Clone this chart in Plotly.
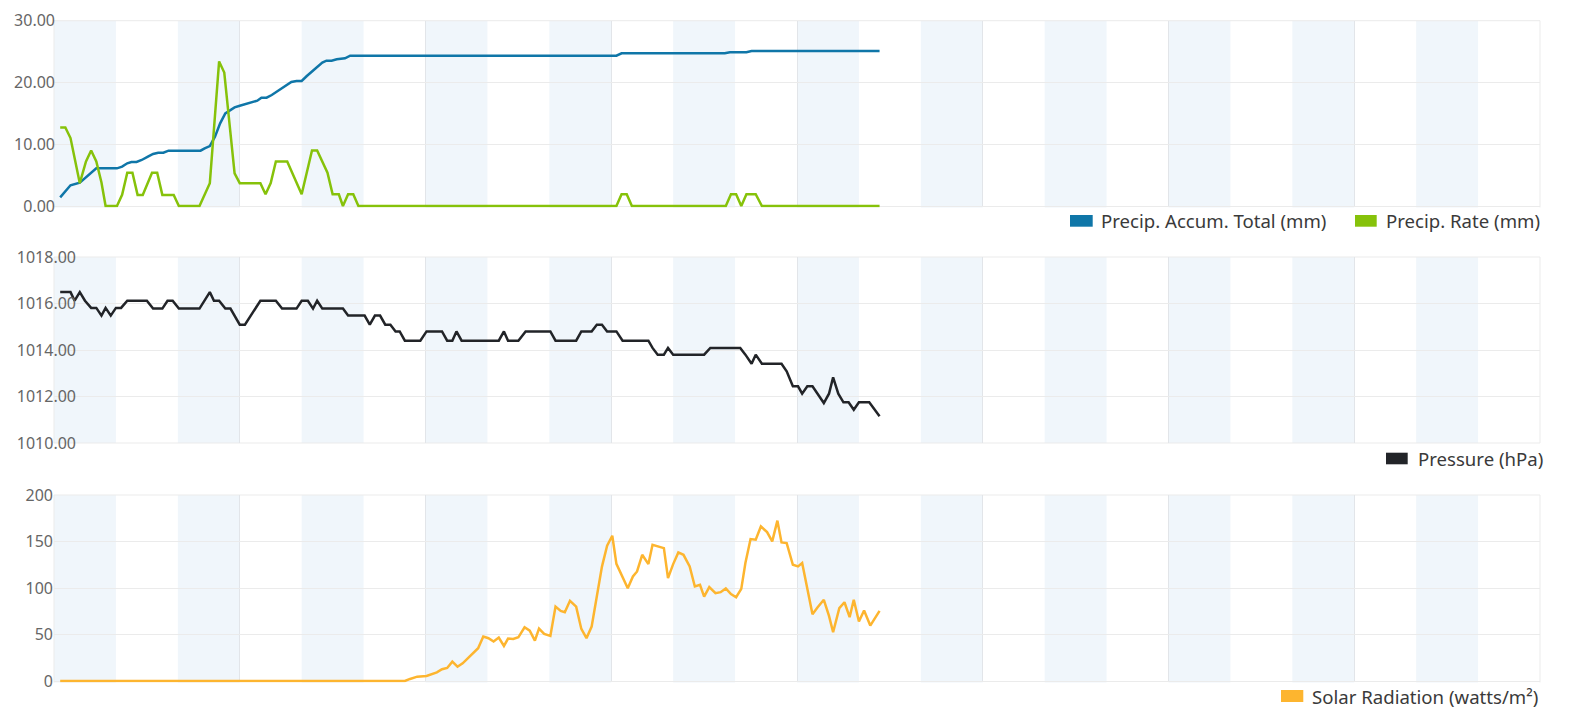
import plotly.graph_objects as go

# ---------------- data (minutes after midnight) -------------
accum_t = [6, 16, 25, 28, 35, 41, 61, 66, 71, 75, 80, 85, 91, 96, 101, 106, 111, 142, 146, 151,
           156, 161, 166, 171, 175, 180, 185, 190, 197, 201, 206, 211, 216, 221, 226, 230, 235,
           240, 245, 250, 255, 260, 264, 269, 274, 279, 282, 287, 545, 550, 650, 655, 671, 676, 800]
accum_v = [1.40, 3.35, 3.78, 4.21, 5.29, 6.10, 6.10, 6.37, 6.91, 7.12, 7.12, 7.45, 7.99, 8.42, 8.63,
           8.63, 8.96, 8.96, 9.34, 9.71, 11.23, 13.38, 15.00, 15.54, 15.97, 16.24, 16.46, 16.73,
           17.05, 17.54, 17.54, 17.97, 18.51, 19.16, 19.70, 20.08, 20.24, 20.24, 21.05, 21.75,
           22.56, 23.21, 23.53, 23.53, 23.75, 23.91, 23.91, 24.34, 24.34, 24.72, 24.72, 24.88,
           24.88, 25.09, 25.09]

rate_t = [6, 11, 16, 20, 25, 31, 36, 41, 46, 50, 61, 66, 71, 76, 81, 86, 95, 100, 105, 116, 121,
          141, 151, 160, 165, 175, 180, 200, 205, 210, 215, 226, 240, 250, 255, 265, 270, 276,
          280, 285, 290, 295, 545, 550, 555, 560, 651, 656, 661, 666, 671, 680, 686, 800]
rate_v = [12.7, 12.7, 11.0, 7.5, 3.7, 7.2, 9.0, 7.2, 3.8, 0, 0, 1.8, 5.4, 5.4, 1.8, 1.8, 5.4, 5.4,
          1.8, 1.8, 0, 0, 3.7, 23.4, 21.6, 5.3, 3.7, 3.7, 1.9, 3.7, 7.2, 7.2, 1.9, 9.0, 9.0, 5.4,
          1.9, 1.9, 0, 1.9, 1.9, 0, 0, 1.9, 1.9, 0, 0, 1.9, 1.9, 0, 1.9, 1.9, 0, 0]

press_t = [6, 16, 20, 25, 30, 36, 41, 46, 50, 55, 60, 65, 71, 90, 96, 105, 110, 115, 121, 141,
           151, 155, 160, 166, 171, 175, 180, 185, 190, 200, 215, 221, 235, 240, 246, 251, 255,
           260, 280, 285, 301, 306, 311, 316, 321, 326, 331, 335, 340, 355, 361, 376, 381, 386,
           390, 395, 431, 436, 440, 450, 457, 481, 486, 506, 511, 521, 526, 531, 536, 545, 551,
           576, 580, 585, 591, 595, 600, 630, 636, 665, 670, 676, 680, 686, 705, 710, 716, 721,
           725, 730, 735, 740, 746, 751, 755, 760, 765, 770, 775, 780, 790, 800]
press_v = [1016.49, 1016.49, 1016.12, 1016.49, 1016.12, 1015.81, 1015.81, 1015.48, 1015.81,
           1015.48, 1015.81, 1015.81, 1016.12, 1016.12, 1015.78, 1015.78, 1016.12, 1016.12,
           1015.78, 1015.78, 1016.49, 1016.12, 1016.12, 1015.78, 1015.78, 1015.45, 1015.09,
           1015.09, 1015.45, 1016.12, 1016.12, 1015.78, 1015.78, 1016.12, 1016.12, 1015.78,
           1016.12, 1015.78, 1015.78, 1015.48, 1015.48, 1015.09, 1015.48, 1015.48, 1015.09,
           1015.09, 1014.80, 1014.80, 1014.40, 1014.40, 1014.80, 1014.80, 1014.40, 1014.40,
           1014.80, 1014.40, 1014.40, 1014.80, 1014.40, 1014.40, 1014.80, 1014.80, 1014.40,
           1014.40, 1014.80, 1014.80, 1015.09, 1015.09, 1014.80, 1014.80, 1014.40, 1014.40,
           1014.09, 1013.80, 1013.80, 1014.09, 1013.80, 1013.80, 1014.09, 1014.09, 1013.80,
           1013.41, 1013.80, 1013.41, 1013.41, 1013.08, 1012.44, 1012.44, 1012.12, 1012.44,
           1012.44, 1012.12, 1011.72, 1012.12, 1012.82, 1012.12, 1011.75, 1011.75, 1011.43,
           1011.75, 1011.75, 1011.15]

solar_t = [6, 340, 345, 352, 361, 366, 371, 376, 381, 386, 391, 396, 401, 406, 411, 416, 421,
           426, 431, 436, 440, 445, 450, 456, 461, 466, 470, 475, 481, 486, 491, 495, 500, 506,
           511, 516, 521, 526, 531, 536, 541, 545, 550, 556, 561, 565, 570, 576, 580, 586, 591,
           595, 600, 605, 610, 616, 621, 626, 630, 635, 641, 646, 651, 656, 661, 666, 670, 675,
           680, 685, 691, 696, 701, 705, 710, 716, 721, 725, 730, 735, 740, 746, 751, 755, 761,
           766, 771, 775, 780, 785, 791, 800]
solar_v = [0, 0, 2.2, 4.7, 5.4, 7.5, 9.3, 12.6, 14.0, 20.8, 15.4, 19.0, 24.4, 30.5, 35.2, 47.8,
           46.0, 42.4, 46.7, 37.7, 45.6, 45.2, 47.0, 57.8, 54.2, 43.4, 56.4, 50.6, 48.5, 80.0,
           75.4, 74.0, 86.2, 80.0, 56.0, 46.0, 58.5, 90.8, 123.0, 145.4, 156.2, 126.0, 114.2,
           99.8, 112.4, 117.8, 135.7, 125.7, 146.5, 144.7, 142.9, 110.6, 125.7, 138.2, 135.7,
           123.2, 101.6, 103.4, 90.8, 100.9, 94.4, 95.5, 99.5, 93.4, 90.1, 99.1, 126.8, 152.6,
           151.9, 166.2, 160.1, 150.1, 172.4, 149.0, 148.3, 125.0, 123.2, 126.8, 98.0, 71.8,
           79.4, 87.3, 70.0, 52.4, 78.3, 84.7, 68.6, 87.3, 63.9, 75.8, 59.6, 75.4]

series_names = ["Precip. Accum. Total (mm)", "Precip. Rate (mm)", "Pressure (hPa)",
                "Solar Radiation (watts/m²)"]
series_colors = ["#0f76a8", "#86c20a", "#222428", "#fdb52f"]

# ---------------- figure ----------------
# the page body has an 8px margin, so the figure is laid out in page coords minus 8
OFF = 8
W, H = 1575 - 2 * OFF, 716 - 2 * OFF
ML, MT = 54 - OFF, 12
MR = W - (1540 - OFF)
MB = H - (684 - OFF)
PW, PH = W - ML - MR, H - MT - MB


def px(x):  # page x -> paper
    return (x - OFF - ML) / PW


def py(y):  # page y -> paper
    return (H - MB - (y - OFF)) / PH


EXT = 1.4  # extra px below the zero line so lines lying on zero are not half clipped
TOP1, BOT1 = 20.7, 206.0
TOP2, BOT2 = 257.0, 443.0
TOP3, BOT3 = 495.0, 681.0
y1min = -EXT * 30 / (BOT1 - TOP1)
y3min = -EXT * 200 / (BOT3 - TOP3)

FONT = "Noto Sans"
LW = 2.5
fig = go.Figure()
fig.add_trace(go.Scatter(x=accum_t, y=accum_v, mode="lines", name=series_names[0], cliponaxis=False,
                         line=dict(color=series_colors[0], width=LW), xaxis="x", yaxis="y"))
fig.add_trace(go.Scatter(x=rate_t, y=rate_v, mode="lines", name=series_names[1], cliponaxis=False,
                         line=dict(color=series_colors[1], width=LW), xaxis="x", yaxis="y"))
fig.add_trace(go.Scatter(x=press_t, y=press_v, mode="lines", name=series_names[2], cliponaxis=False,
                         line=dict(color=series_colors[2], width=LW), xaxis="x2", yaxis="y2"))
fig.add_trace(go.Scatter(x=solar_t, y=solar_v, mode="lines", name=series_names[3], cliponaxis=False,
                         line=dict(color=series_colors[3], width=LW), xaxis="x3", yaxis="y3"))

domains = [[py(BOT1 + EXT), py(TOP1)], [py(BOT2), py(TOP2)], [py(BOT3 + EXT), py(TOP3)]]
domains = [[max(0, a), min(1, b)] for a, b in domains]
xgrid = "#e2e5e9"
ygrid = "#ebebeb"
xcommon = dict(range=[0, 1440], tickmode="linear", tick0=0, dtick=180, showticklabels=False,
               showgrid=True, gridcolor=xgrid, gridwidth=1, zeroline=False, showline=False,
               ticks="", fixedrange=True, automargin=False)
ycommon = dict(showgrid=True, gridcolor=ygrid, gridwidth=1, zeroline=False, ticks="",
               tickfont=dict(family=FONT, size=16, color="#666666"), showline=False,
               automargin=False)

fig.update_layout(
    width=W, height=H, margin=dict(l=ML, r=MR, t=MT, b=MB, autoexpand=False),
    paper_bgcolor="white", plot_bgcolor="white", showlegend=False,
    font=dict(family=FONT),
    xaxis=dict(xcommon, anchor="y"),
    xaxis2=dict(xcommon, anchor="y2", matches="x"),
    xaxis3=dict(xcommon, anchor="y3", matches="x"),
    yaxis=dict(ycommon, domain=domains[0], range=[y1min, 30], tickmode="linear", tick0=0,
               dtick=10, tickformat=".2f", anchor="x", ticklabelstandoff=-2),
    yaxis2=dict(ycommon, domain=domains[1], range=[1010, 1018], tickmode="linear", tick0=1010,
                dtick=2, tickformat=".2f", anchor="x2", ticklabelstandoff=-23),
    yaxis3=dict(ycommon, domain=domains[2], range=[y3min, 200], tickmode="linear", tick0=0,
                dtick=50, tickformat="d", anchor="x3", ticklabelstandoff=0),
)

shapes = []
for xa, ya, full in [("x", "y", False), ("x2", "y2", True), ("x3", "y3", False)]:
    # alternating hourly bands
    for h in range(0, 24, 2):
        shapes.append(dict(type="rect", xref=xa, yref=ya + " domain", x0=h * 60, x1=h * 60 + 60,
                           y0=0, y1=1, fillcolor="#f0f6fb", line=dict(width=0), layer="below"))
    # panel frame (bottom edge given by the zero grid line on panels 1 and 3)
    segs = [(0, 1, 1, 1), (0, 0, 0, 1), (1, 1, 0, 1)]
    if full:
        segs.append((0, 1, 0, 0))
    for x0, x1, y0, y1 in segs:
        shapes.append(dict(type="line", xref=xa + " domain", yref=ya + " domain",
                           x0=x0, x1=x1, y0=y0, y1=y1,
                           line=dict(color=ygrid, width=1), layer="below"))

# legends drawn as colour boxes + text
legend_items = [
    (0, 1070, 1092.7, 215, 226.7, 1099),
    (1, 1355, 1376.7, 215, 226.7, 1384),
    (2, 1386, 1407.7, 452.7, 464.3, 1415.5),
    (3, 1281, 1303.3, 690, 702, 1310),
]
annotations = []
for i, x0, x1, y0, y1, tx in legend_items:
    shapes.append(dict(type="rect", xref="paper", yref="paper", x0=px(x0), x1=px(x1),
                       y0=py(y1), y1=py(y0), fillcolor=series_colors[i], line=dict(width=0)))
    annotations.append(dict(xref="paper", yref="paper", x=px(tx), y=py((y0 + y1) / 2),
                            xanchor="left", yanchor="middle", text=series_names[i],
                            showarrow=False, font=dict(family=FONT, size=18.6, color="#3a3a3a")))

fig.update_layout(shapes=shapes, annotations=annotations)
fig.write_html("out.html")
